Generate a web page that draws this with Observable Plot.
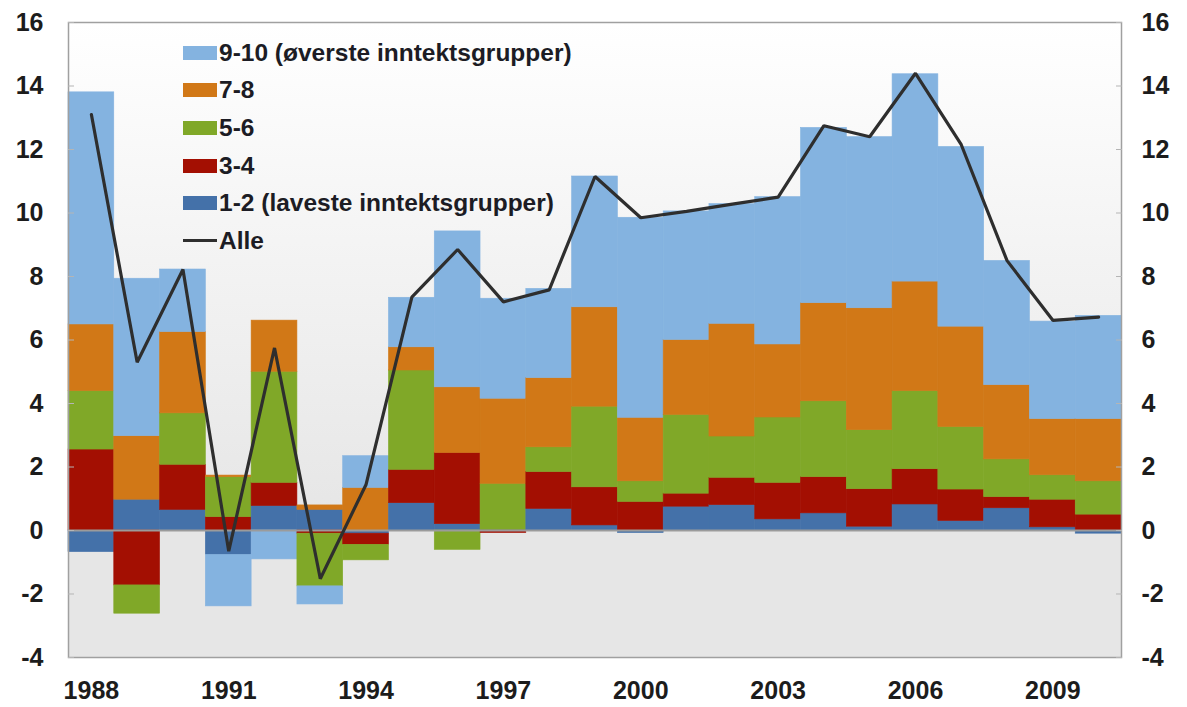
<!DOCTYPE html>
<html><head><meta charset="utf-8">
<script src="https://cdn.jsdelivr.net/npm/d3@7"></script>
<script src="https://cdn.jsdelivr.net/npm/@observablehq/plot@0.6"></script>
<style>
  html,body{margin:0;padding:0;background:#fff;}
  #wrap{position:relative;width:1187px;height:707px;font-family:"Liberation Sans",Arial,sans-serif;}
  #legend{position:absolute;left:183px;top:34px;font-size:24.5px;font-weight:bold;color:#1c1c24;}
  .row{display:flex;align-items:center;height:37.6px;white-space:nowrap;}
  .sw{width:34px;height:14px;margin-right:2px;flex:none;}
  .ln{width:34px;height:3px;background:#2e2e2e;margin-right:2px;flex:none;}
</style></head>
<body><div id="wrap"></div>
<script>
const years = [1988,1989,1990,1991,1992,1993,1994,1995,1996,1997,1998,1999,2000,2001,2002,2003,2004,2005,2006,2007,2008,2009,2010];
const seriesNames = ["1-2 (laveste inntektsgrupper)","3-4","5-6","7-8","9-10 (øverste inntektsgrupper)"];
const g12  = [-0.68, 0.97, 0.65,-0.77, 0.77, 0.65,-0.10, 0.86, 0.20, 0.02, 0.68, 0.16,-0.08, 0.75, 0.80, 0.35, 0.54, 0.12, 0.82, 0.30, 0.70, 0.10,-0.10];
const g34  = [ 2.55,-1.73, 1.42, 0.42, 0.73,-0.10,-0.35, 1.05, 2.24,-0.08, 1.16, 1.20, 0.90, 0.41, 0.86, 1.15, 1.14, 1.18, 1.11, 0.99, 0.35, 0.87, 0.50];
const g56  = [ 1.84,-0.89, 1.62, 1.26, 3.50,-1.66,-0.49, 3.13,-0.61, 1.45, 0.78, 2.54, 0.65, 2.48, 1.30, 2.06, 2.39, 1.86, 2.46, 1.97, 1.19, 0.77, 1.05];
const g78  = [ 2.10, 2.00, 2.56, 0.05, 1.61, 0.14, 1.34, 0.73, 2.07, 2.68, 2.18, 3.13, 2.00, 2.36, 3.55, 2.30, 3.09, 3.84, 3.45, 3.16, 2.34, 1.77, 1.96];
const g910 = [ 7.31, 4.96, 1.97,-1.62,-0.91,-0.57, 1.00, 1.56, 4.91, 3.15, 2.81, 4.12, 6.30, 4.05, 3.77, 4.64, 5.52, 5.39, 6.53, 5.66, 3.91, 3.07, 3.25];
const alle = [13.10, 5.30, 8.22,-0.65, 5.75,-1.52, 1.45, 7.35, 8.85, 7.20, 7.58, 11.15, 9.85, 10.05, 10.28, 10.50, 12.75, 12.40, 14.40, 12.15, 8.50, 6.62, 6.72];
const colors = ["#4471a9","#a30f02","#80a828","#d17817","#84b3e0"];
const xTicks = [1988,1991,1994,1997,2000,2003,2006,2009];
const yTicks = [-4,-2,0,2,4,6,8,10,12,14,16];

const groups = [g12,g34,g56,g78,g910];
const rows = [];
years.forEach((yr,i) => groups.forEach((g,k) => rows.push({year: yr, series: seriesNames[k], value: g[i]})));
const lineRows = years.map((yr,i) => ({year: yr, value: alle[i]}));

const defs = () => {
  const ns = "http://www.w3.org/2000/svg";
  const d = document.createElementNS(ns, "defs");
  d.innerHTML = `<linearGradient id="bgGrad" x1="0" y1="0" x2="0" y2="1">
    <stop offset="0" stop-color="#ffffff"/>
    <stop offset="0.78" stop-color="#e6e6e6"/>
    <stop offset="1" stop-color="#e6e6e6"/></linearGradient>`;
  return d;
};

const fmt = d => String(d);

const chart = Plot.plot({
  width: 1187, height: 707,
  marginLeft: 68, marginRight: 66, marginTop: 22, marginBottom: 50,
  style: {fontFamily: "Liberation Sans, Arial, sans-serif", fontSize: "25px", fontWeight: "bold", color: "#1c1c1c", background: "transparent"},
  x: {type: "band", domain: years, padding: 0, round: false, label: null},
  y: {domain: [-4, 16], label: null},
  color: {domain: seriesNames, range: colors},
  marks: [
    defs,
    Plot.frame({fill: "url(#bgGrad)"}),
    Plot.barY(rows, Plot.stackY({x: "year", y: "value", z: "series", fill: "series", stroke: "series", strokeWidth: 0.6, order: null})),
    Plot.ruleY([0], {stroke: "#9b9b9b", strokeWidth: 2}),
    Plot.line(lineRows, {x: "year", y: "value", stroke: "#2e2e2e", strokeWidth: 3.2, strokeLinejoin: "miter"}),
    Plot.frame({stroke: "#a0a0a0", strokeWidth: 1.5}),
    Plot.axisY(yTicks, {anchor: "left", tickSize: -6, stroke: "#b5b5b5", tickPadding: 31, tickFormat: fmt, label: null}),
    Plot.axisY(yTicks, {anchor: "right", tickSize: -6, stroke: "#b5b5b5", tickPadding: 26, tickFormat: fmt, label: null}),
    Plot.axisX(xTicks, {anchor: "bottom", tickSize: 0, tickPadding: 24, tickFormat: fmt, label: null})
  ]
});
const wrap = document.getElementById("wrap");
wrap.appendChild(chart);

const legendItems = [
  {name: seriesNames[4], color: colors[4]},
  {name: seriesNames[3], color: colors[3]},
  {name: seriesNames[2], color: colors[2]},
  {name: seriesNames[1], color: colors[1]},
  {name: seriesNames[0], color: colors[0]},
  {name: "Alle", line: true}
];
const leg = document.createElement("div");
leg.id = "legend";
legendItems.forEach(it => {
  const r = document.createElement("div"); r.className = "row";
  const s = document.createElement("span");
  if (it.line) s.className = "ln"; else { s.className = "sw"; s.style.background = it.color; }
  const t = document.createElement("span"); t.textContent = it.name;
  r.appendChild(s); r.appendChild(t); leg.appendChild(r);
});
wrap.appendChild(leg);
</script>
</body></html>
